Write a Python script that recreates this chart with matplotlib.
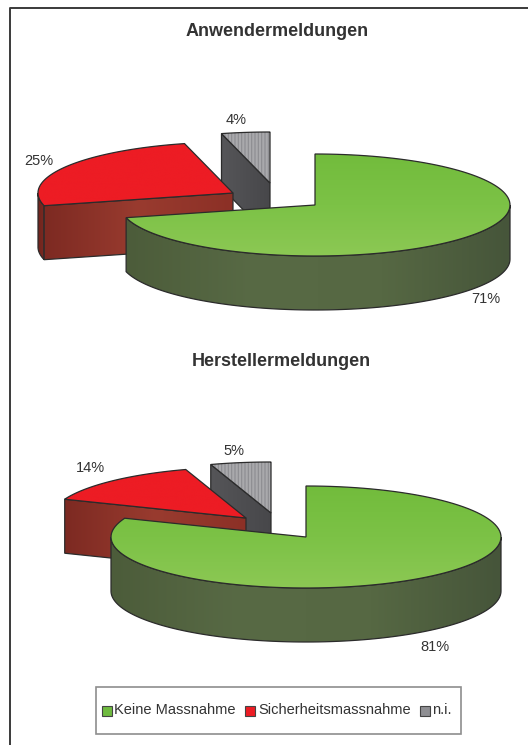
import numpy as np
import matplotlib
matplotlib.use('Agg')
import matplotlib.pyplot as plt
from matplotlib.colors import LinearSegmentedColormap
from matplotlib.patches import Polygon, Rectangle

plt.rcParams['font.family'] = ['Liberation Sans', 'DejaVu Sans']
plt.rcParams['hatch.linewidth'] = 0.8

titles = ['Anwendermeldungen', 'Herstellermeldungen']
categories = ['Keine Massnahme', 'Sicherheitsmassnahme', 'n.i.']
anwender = [71, 25, 4]
hersteller = [81, 14, 5]

TEXT = '#333333'
OUTLINE = '#2b2b2b'
RX, RY, DEPTH = 195, 51, 54


def arc(center, a, b, n=120):
    t = np.radians(np.linspace(a, b, n))
    return np.column_stack([center[0] + RX * np.cos(t), center[1] - RY * np.sin(t)])


def grad_fill(ax, pts, colors, vertical=True):
    # gradient image clipped to the polygon, then the outline on top
    cmap = LinearSegmentedColormap.from_list('g', colors)
    g = np.linspace(0, 1, 256)
    g = g[:, None] if vertical else g[None, :]
    x0, x1 = pts[:, 0].min(), pts[:, 0].max()
    y0, y1 = pts[:, 1].min(), pts[:, 1].max()
    im = ax.imshow(g, cmap=cmap, extent=(x0, x1, y1, y0), aspect='auto', zorder=ax.zi)
    poly = Polygon(pts, closed=True, facecolor='none', edgecolor=OUTLINE, lw=0.9, zorder=ax.zi + 0.5)
    ax.add_patch(poly)
    im.set_clip_path(poly)
    ax.zi += 1


def extrude(pts):
    return np.vstack([pts, (pts + [0, DEPTH])[::-1]])


def draw_pie(ax, values, green_c, red_c, grey_c):
    g_end = 90 - values[0] * 3.6
    r_end = g_end - values[1] * 3.6
    n_end = r_end - values[2] * 3.6

    # n.i. slice: cut face first, striped top after
    grey_top = np.vstack([[grey_c], arc(grey_c, n_end, r_end)])
    grad_fill(ax, extrude(np.array([arc(grey_c, r_end, r_end, 2)[0], grey_c], dtype=float)),
              ['#555558', '#47474a'], vertical=False)
    ax.add_patch(Polygon(grey_top, closed=True, facecolor='#a9a9ac', edgecolor='#8c8c90',
                         hatch='|||||', lw=0, zorder=ax.zi))
    ax.add_patch(Polygon(grey_top, closed=True, facecolor='none', edgecolor=OUTLINE, lw=0.9,
                         zorder=ax.zi + 0.5))
    ax.zi += 1

    # Sicherheitsmassnahme slice
    if g_end > -180:
        grad_fill(ax, extrude(arc(red_c, -180, g_end)), ['#6e241d', '#7d2a22'], vertical=False)
    edge = np.array([arc(red_c, g_end, g_end, 2)[0], red_c], dtype=float)
    grad_fill(ax, extrude(edge), ['#7d2a22', '#993b2f', '#8c3026'], vertical=False)
    red_top = np.vstack([[red_c], arc(red_c, r_end, g_end)])
    grad_fill(ax, red_top, ['#ed1c24', '#ed1c24'])

    # Keine Massnahme slice
    grad_fill(ax, extrude(arc(green_c, max(g_end, -180), 0)),
              ['#4c5c3a', '#586a45', '#566843', '#46553a'], vertical=False)
    green_top = np.vstack([[green_c], arc(green_c, g_end, 90)])
    grad_fill(ax, green_top, ['#72bc3c', '#7cc246', '#8cc854'])


fig = plt.figure(figsize=(5.28, 7.45), dpi=100)
ax = fig.add_axes([0, 0, 1, 1])
ax.zi = 2

draw_pie(ax, anwender, (315, 205), (233, 193), (270, 183))
draw_pie(ax, hersteller, (306, 537), (246, 518), (271, 513))

# outer frame, only left and top are inside the picture
ax.plot([10, 10, 528], [745, 7.5, 7.5], color='#3a3a3a', lw=1.4, zorder=1)

ax.text(277, 31.5, titles[0], ha='center', va='center', fontsize=13, fontweight='bold', color=TEXT)
ax.text(281, 362, titles[1], ha='center', va='center', fontsize=13, fontweight='bold', color=TEXT)

for x, y, v in [(486, 299, anwender[0]), (39, 161, anwender[1]), (236, 120, anwender[2]),
                (435, 647, hersteller[0]), (90, 468, hersteller[1]), (234, 451, hersteller[2])]:
    ax.text(x, y, f'{v}%', ha='center', va='center', fontsize=10.5, color=TEXT)

# legend
ax.add_patch(Rectangle((96, 687), 365, 47, facecolor='white', edgecolor='#8e8e8e', lw=1.2, zorder=20))
for sx, tx, c, label in zip([102, 245, 420], [114, 258, 432], ['#6fbb3f', '#ed1c24', '#8f8f93'], categories):
    ax.add_patch(Rectangle((sx, 706), 10, 10, facecolor=c, edgecolor='#444444', lw=0.8, zorder=21))
    ax.text(tx, 710, label, ha='left', va='center', fontsize=10.5, color=TEXT, zorder=21)

ax.set_xlim(0, 528)
ax.set_ylim(745, 0)
ax.axis('off')
fig.savefig('out.png', dpi=100)
